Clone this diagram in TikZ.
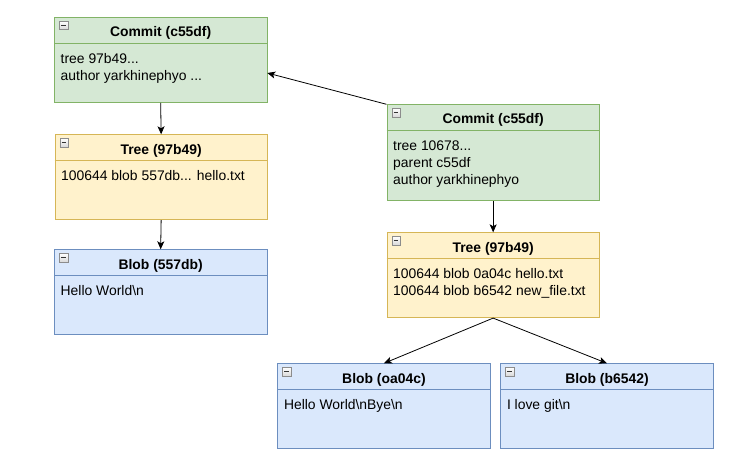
\documentclass[tikz,border=0pt]{standalone}
\usepackage{fontspec}
\setmainfont{Liberation Sans}
\usetikzlibrary{arrows.meta}
\definecolor{gfill}{HTML}{D5E8D4}\definecolor{gline}{HTML}{82B366}
\definecolor{yfill}{HTML}{FFF2CC}\definecolor{yline}{HTML}{D6B656}
\definecolor{bfill}{HTML}{DAE8FC}\definecolor{bline}{HTML}{6C8EBF}
\tikzset{
  greenbox/.style={fill=gfill, draw=gline},
  yellowbox/.style={fill=yfill, draw=yline},
  bluebox/.style={fill=bfill, draw=bline},
  greensep/.style={draw=gline},
  yellowsep/.style={draw=yline},
  bluesep/.style={draw=bline},
  titletext/.style={font=\fontsize{13.9}{17}\selectfont\bfseries, inner sep=0pt},
  bodytext/.style={font=\fontsize{13.9}{17}\selectfont, inner sep=0pt, align=left},
  iconbox/.style={draw=black!45, top color=white, bottom color=black!15, minimum size=8.5pt, inner sep=0pt,
    path picture={\draw[line width=0.9pt, black!80] ([xshift=-2.4pt]path picture bounding box.center) -- ([xshift=2.4pt]path picture bounding box.center);}},
  arr/.style={line width=0.8pt, -{Stealth[length=8pt,width=7pt,inset=2pt]}},
}
\newcommand{\gitobj}[7]{%
  \node[#5box, line width=0.8pt, minimum width=212.5pt, minimum height=#4pt, anchor=north west, inner sep=0pt] (#1) at (#2,#3) {};
  \draw[#5sep, line width=0.8pt] ([yshift=-26pt]#1.north west) -- ([yshift=-26pt]#1.north east);
  \node[iconbox] (#1i) at ([xshift=9.5pt,yshift=-8.3pt]#1.north west) {};
  \node[titletext, anchor=base] (#1t) at ([yshift=-19.7pt]#1.north) {#6};
  \node[bodytext, anchor=north west] (#1b) at ([xshift=6.5pt,yshift=-34.4pt]#1.north west) {\strut #7};
}
\begin{document}
\begin{tikzpicture}[x=1pt,y=-1pt]
\useasboundingbox (0,0) rectangle (754,468);
\fill[white] (0,0) rectangle (754,468);
\gitobj{c1}{54}{17}{85}{green}{Commit (c55df)}{tree 97b49...\\author yarkhinephyo ...}
\gitobj{t1}{54.5}{134.3}{85}{yellow}{Tree (97b49)}{100644 blob 557db... hello.txt}
\gitobj{b1}{54}{249.3}{85}{blue}{Blob (557db)}{Hello World\textbackslash n}
\gitobj{c2}{386.5}{104.3}{96}{green}{Commit (c55df)}{tree 10678...\\parent c55df\\author yarkhinephyo}
\gitobj{t2}{386.5}{232.3}{85}{yellow}{Tree (97b49)}{100644 blob 0a04c hello.txt\\100644 blob b6542 new\_file.txt}
\gitobj{ba}{277.3}{363.3}{85}{blue}{Blob (oa04c)}{Hello World\textbackslash nBye\textbackslash n}
\gitobj{bb}{500.3}{363.3}{85}{blue}{Blob (b6542)}{I love git\textbackslash n}
\coordinate (c1in) at ([yshift=-56pt]c1.north east);
\draw[arr] (c2.north west) -- (c1in);
\draw[arr] (c1.south) -- (t1.north);
\draw[arr] (t1.south) -- (b1.north);
\draw[arr] (c2.south) -- (t2.north);
\draw[arr] (t2.south) -- (ba.north);
\draw[arr] (t2.south) -- (bb.north);
\end{tikzpicture}
\end{document}
